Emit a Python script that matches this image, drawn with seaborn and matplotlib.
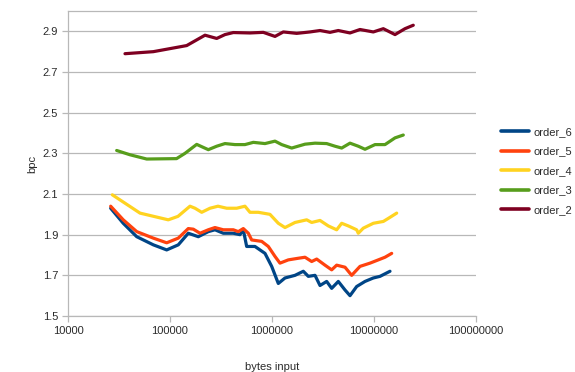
import matplotlib
matplotlib.use("Agg")
import matplotlib.pyplot as plt
import matplotlib.ticker as mticker
import numpy as np
import pandas as pd
import seaborn as sns

# bytes of input consumed vs. bits per character, one series per model order
bytes_order_6 = [26200, 34800, 47200, 68600, 92800, 120600, 151100, 189400, 237400, 276000,
                 333000, 417500, 485300, 523100, 564500, 680800, 853600, 993000, 1153000,
                 1341000, 1681000, 2028000, 2270000, 2641000, 2956000, 3436000, 3847000,
                 4467000, 5196000, 5818000, 6761000, 8162000, 9848000, 11450000, 14350000]
bpc_order_6 = [2.03, 1.956, 1.89, 1.85, 1.825, 1.85, 1.907, 1.89, 1.915, 1.924,
               1.907, 1.907, 1.90, 1.924, 1.842, 1.842, 1.808, 1.744, 1.66,
               1.687, 1.70, 1.72, 1.695, 1.70, 1.65, 1.67, 1.636,
               1.67, 1.628, 1.60, 1.645, 1.67, 1.687, 1.695, 1.72]

bytes_order_5 = [26200, 34800, 47200, 68600, 92800, 120600, 151100, 169200, 196800, 237400,
                 276000, 333000, 417500, 467300, 523100, 585800, 632400, 792500, 920000,
                 1070000, 1197000, 1445000, 1811000, 2107000, 2449000, 2743000, 3309000,
                 3847000, 4305000, 5196000, 6040000, 7290000, 9141000, 11020000, 12820000,
                 14910000]
bpc_order_5 = [2.04, 1.973, 1.915, 1.883, 1.86, 1.883, 1.93, 1.927, 1.907, 1.924,
               1.935, 1.924, 1.924, 1.915, 1.93, 1.907, 1.874, 1.867, 1.842,
               1.793, 1.76, 1.776, 1.784, 1.789, 1.768, 1.78, 1.75,
               1.727, 1.75, 1.74, 1.70, 1.744, 1.76, 1.776, 1.789,
               1.808]

bytes_order_4 = [27200, 50800, 96200, 119700, 157000, 175800, 204600, 246600, 295500, 359700,
                 450700, 543300, 608300, 734000, 955000, 1153000, 1341000, 1681000, 2188000,
                 2449000, 2956000, 3565000, 4305000, 4821000, 5600000, 6761000, 7015000,
                 7853000, 9848000, 12340000, 13810000, 16690000]
bpc_order_4 = [2.096, 2.006, 1.973, 1.99, 2.04, 2.03, 2.01, 2.03, 2.04, 2.03,
               2.03, 2.04, 2.01, 2.01, 2.0, 1.956, 1.935, 1.96, 1.973,
               1.96, 1.97, 1.943, 1.924, 1.956, 1.943, 1.924, 1.907,
               1.932, 1.956, 1.965, 1.98, 2.006]

bytes_order_3 = [30000, 40500, 59100, 116000, 140300, 182700, 237400, 287000, 346000, 433600,
                 543300, 655800, 853600, 1070000, 1244000, 1560000, 2107000, 2641000, 3436000,
                 4146000, 4821000, 5818000, 7015000, 8162000, 10230000, 12820000, 16070000,
                 19370000]
bpc_order_3 = [2.314, 2.293, 2.272, 2.274, 2.30, 2.344, 2.318, 2.335, 2.348, 2.343,
               2.343, 2.354, 2.348, 2.36, 2.343, 2.326, 2.345, 2.35, 2.348,
               2.335, 2.326, 2.35, 2.335, 2.32, 2.343, 2.343, 2.376,
               2.39]

bytes_order_2 = [36200, 68600, 145800, 220400, 287000, 346000, 417500, 608300, 822000, 1070000,
                 1291000, 1746000, 2358000, 2956000, 3704000, 4467000, 5818000, 7290000,
                 9848000, 12340000, 16070000, 20120000, 24270000]
bpc_order_2 = [2.79, 2.80, 2.83, 2.881, 2.865, 2.884, 2.894, 2.892, 2.895, 2.875,
               2.897, 2.89, 2.897, 2.904, 2.895, 2.904, 2.892, 2.909,
               2.897, 2.913, 2.884, 2.913, 2.93]

series_names = ["order_6", "order_5", "order_4", "order_3", "order_2"]
series_colors = ["#004586", "#ff420e", "#ffd320", "#579d1c", "#7e0021"]
y_ticks = [1.5, 1.7, 1.9, 2.1, 2.3, 2.5, 2.7, 2.9]
x_ticks = [10000, 100000, 1000000, 10000000, 100000000]

frames = []
for name, xs, ys in zip(series_names,
                        [bytes_order_6, bytes_order_5, bytes_order_4, bytes_order_3, bytes_order_2],
                        [bpc_order_6, bpc_order_5, bpc_order_4, bpc_order_3, bpc_order_2]):
    frames.append(pd.DataFrame({"bytes input": xs, "bpc": ys, "series": name}))
df = pd.concat(frames, ignore_index=True)

sns.set_theme(style="white")
plt.rcParams["font.family"] = ["Liberation Sans", "DejaVu Sans"]

fig = plt.figure(figsize=(5.75, 3.72), dpi=100)
ax = fig.add_axes([68 / 575, 1 - 316 / 372, (476 - 68) / 575, (316 - 11) / 372])

grid_color = "#b8b8b8"
text_color = "#2b2b2b"

sns.lineplot(data=df, x="bytes input", y="bpc", hue="series", hue_order=series_names,
             palette=dict(zip(series_names, series_colors)), estimator=None,
             linewidth=2.3, ax=ax)

ax.set_xscale("log")
ax.set_xlim(1e4, 1e8)
ax.set_ylim(1.5, 3.0)
ax.set_xticks(x_ticks)
ax.xaxis.set_major_formatter(mticker.FuncFormatter(lambda v, p: f"{int(round(v))}"))
ax.xaxis.set_minor_locator(mticker.NullLocator())
ax.set_yticks(y_ticks)
ax.yaxis.set_major_formatter(mticker.FormatStrFormatter("%.1f"))

ax.grid(axis="y", color=grid_color, linewidth=0.9)
ax.set_axisbelow(True)
for side in ["left", "bottom", "top"]:
    ax.spines[side].set_visible(True)
    ax.spines[side].set_color(grid_color)
    ax.spines[side].set_linewidth(0.9)
ax.spines["right"].set_visible(False)

ax.tick_params(axis="both", which="major", direction="out", length=4, width=0.9,
               color=grid_color, labelsize=8, labelcolor=text_color, pad=3,
               left=True, bottom=True)

ax.set_xlabel("bytes input", fontsize=8, color=text_color, labelpad=19)
ax.set_ylabel("bpc", fontsize=8, color=text_color, labelpad=4)

handles, labels = ax.get_legend_handles_labels()
ax.legend(handles, labels, loc="center left", bbox_to_anchor=(497 / 575, 1 - 171 / 372),
          bbox_transform=fig.transFigure, frameon=False, fontsize=8,
          handlelength=2.5, handletextpad=0.4, labelspacing=0.85,
          borderaxespad=0, labelcolor=text_color)
for line in ax.get_legend().get_lines():
    line.set_linewidth(2.6)

fig.savefig("out.png", dpi=100)
